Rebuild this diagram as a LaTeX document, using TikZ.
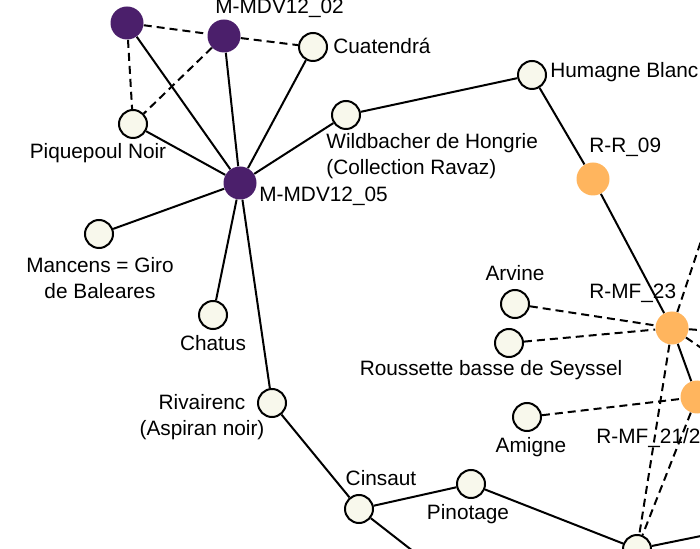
\documentclass[tikz,border=0pt]{standalone}
\usepackage{fontspec}
\setmainfont{Liberation Sans}
\definecolor{mdvpurple}{RGB}{75,31,107}
\definecolor{rmforange}{RGB}{255,181,94}
\definecolor{cultivar}{RGB}{248,248,236}
\begin{document}
\begin{tikzpicture}[x=0.5pt, y=-0.5pt,
  every node/.style={font=\fontsize{10.4}{13}\selectfont},
  purplenode/.style={circle, fill=mdvpurple, minimum size=16.5pt, inner sep=0pt},
  orangenode/.style={circle, fill=rmforange, minimum size=16.5pt, inner sep=0pt},
  plainnode/.style={circle, draw=black, line width=1pt, fill=cultivar, minimum size=14pt, inner sep=0pt},
  solidlink/.style={line width=1pt},
  dashlink/.style={line width=1pt, dash pattern=on 4pt off 2.5pt},
  tagw/.style={inner sep=0pt, anchor=base west, align=left},
  tagc/.style={inner sep=0pt, anchor=base, align=center}]
\useasboundingbox (0,0) rectangle (700,549);
\clip (0,0) rectangle (700,549);
% off-canvas ends
\coordinate (cinout) at (450,580);
\coordinate (botout) at (760,524);
\coordinate (mfup) at (718,190);
\coordinate (mfright) at (780,336);
\coordinate (mfdown) at (760,388);
% nodes
\node[purplenode] (mdvA) at (127,23) {};
\node[purplenode] (mdv02) at (224,36) {};
\node[purplenode] (mdv05) at (240,183) {};
\node[plainnode] (cuat) at (313,47) {};
\node[plainnode] (piq) at (133,124) {};
\node[plainnode] (wild) at (346,115) {};
\node[plainnode] (hum) at (532,75) {};
\node[plainnode] (man) at (99,234) {};
\node[plainnode] (chat) at (213,315) {};
\node[plainnode] (riv) at (272,403) {};
\node[plainnode] (cin) at (359,509) {};
\node[plainnode] (pin) at (471,484) {};
\node[plainnode] (bot) at (637,549) {};
\node[plainnode] (arv) at (515,304) {};
\node[plainnode] (rous) at (509,343) {};
\node[plainnode] (ami) at (527,417) {};
\node[orangenode] (rr09) at (593,179) {};
\node[orangenode] (mf23) at (672,328) {};
\node[orangenode] (mf21) at (697,397) {};
% links
\draw[solidlink] (mdvA) -- (mdv05) (mdv02) -- (mdv05) (cuat) -- (mdv05)
  (piq) -- (mdv05) (wild) -- (mdv05) (man) -- (mdv05) (chat) -- (mdv05)
  (riv) -- (mdv05) (wild) -- (hum) (hum) -- (rr09) (rr09) -- (mf23)
  (mf23) -- (mf21) (riv) -- (cin) (cin) -- (pin) (pin) -- (bot)
  (cin) -- (cinout) (bot) -- (botout);
\draw[dashlink] (mdvA) -- (mdv02) (mdvA) -- (piq) (mdv02) -- (piq)
  (mdv02) -- (cuat) (arv) -- (mf23) (rous) -- (mf23) (ami) -- (mf21)
  (mf23) -- (bot) (mf21) -- (bot) (mf23) -- (mfup) (mf23) -- (mfright)
  (mf23) -- (mfdown);
% labels (two-line tags sit on their last line)
\node[tagw] (t02) at (215,14) {M-MDV12\_02};
\node[tagw] (tcuat) at (333,54) {Cuatendrá};
\node[tagw] (thum) at (550,78) {Humagne Blanc};
\node[tagw] (twild) at (326,175) {Wildbacher de Hongrie\\(Collection Ravaz)};
\node[tagw] (t05) at (259,202) {M-MDV12\_05};
\node[tagc] (tpiq) at (98,159) {Piquepoul Noir};
\node[tagc] (tman) at (100,299) {Mancens = Giro\\de Baleares};
\node[tagc] (tchat) at (213,351) {Chatus};
\node[tagc] (triv) at (202,435) {Rivairenc\\(Aspiran noir)};
\node[tagc] (tcin) at (381,485) {Cinsaut};
\node[tagc] (tpin) at (468,519) {Pinotage};
\node[tagw] (trr09) at (589,153) {R-R\_09};
\node[tagc] (tarv) at (515,281) {Arvine};
\node[tagw] (tmf23) at (589,299) {R-MF\_23};
\node[tagc] (trous) at (491,376) {Roussette basse de Seyssel};
\node[tagc] (tami) at (531,452) {Amigne};
\node[tagw] (tmf21) at (596,443) {R-MF\_21/2};
\end{tikzpicture}
\end{document}
